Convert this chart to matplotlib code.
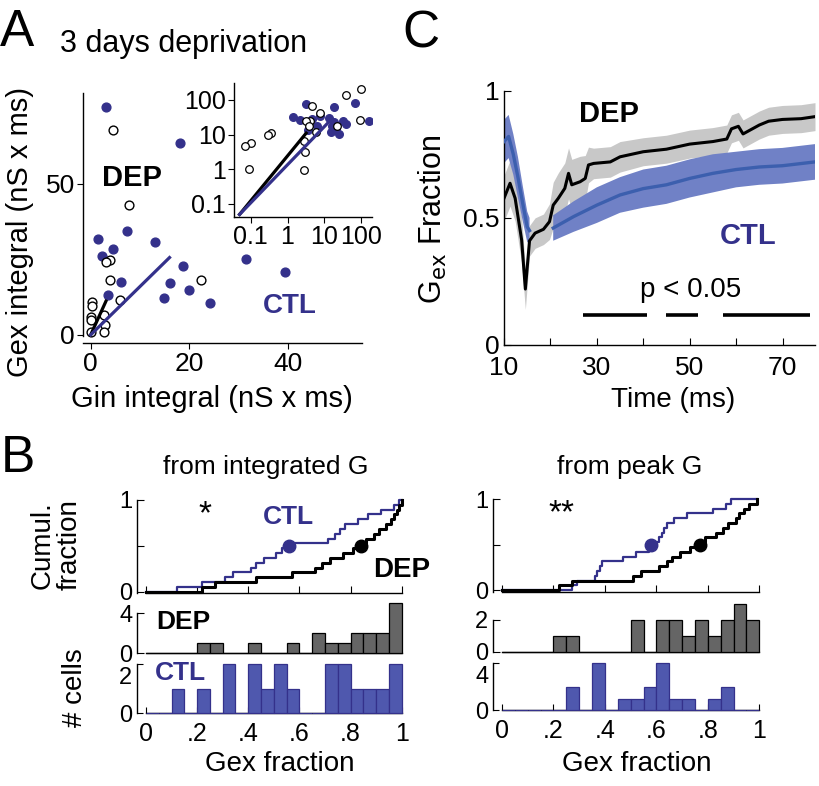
import numpy as np
import matplotlib.pyplot as plt
from matplotlib.transforms import ScaledTranslation

plt.rcParams['font.family'] = ['Liberation Sans', 'DejaVu Sans']
plt.rcParams['axes.linewidth'] = 1.0

W, H = 820, 786

NAVY = '#34318b'
HIST_BLUE = '#4f58ae'
HIST_GRAY = '#656565'
C_BLUE = '#3c5fae'
C_BAND = '#7081c6'
C_GRAY = '#c8c8c8'

# ---- A: integrated conductances, one point per cell (nS x ms)
ctl_gin = [3.2, 18.1, 7.4, 1.4, 13.1, 4.6, 2.2, 31.6, 18.7, 39.4, 6.1, 16.0, 20.0, 3.6, 14.9, 24.3, 68, 158]
ctl_gex = [75.6, 63.6, 34.5, 31.7, 30.8, 28.5, 26.2, 25.1, 22.7, 20.7, 17.4, 17.1, 14.7, 13.3, 12.2, 10.7, 83, 25]
dep_gin = [4.6, 7.8, 4.0, 3.1, 3.9, 22.4, 5.9, 0.35, 0.3, 0.1, 0.07, 2.8, 2.9, 0.09, 2.8, 38, 100, 93]
dep_gex = [68, 43, 24.9, 24, 18, 18, 11.5, 11, 9.6, 5.8, 4.8, 6.6, 3.2, 1.05, 0.93, 138, 204, 26]

# linear fits (main) and fits shown in the log-log inset
dep_slope, ctl_slope = 3.6, 1.6
dep_fit_x = [0.0, 3.1]
ctl_fit_x = [0.0, 16.0]
dep_log_x, dep_log_y = [0.05, 3.2], [0.05, 11]
ctl_log_x, ctl_log_y = [0.05, 12.6], [0.05, 22]

# ---- C: Gex fraction vs time, mean +- sem
dep_t = [10, 11.3, 12.4, 13.8, 14.6, 15.5, 16.7, 18.5, 19.8, 20.6, 21.7, 23.1, 23.9, 24.6, 26.4, 27.5,
         28.2, 29.3, 32.9, 35, 40, 45, 50, 55, 58, 59, 60.5, 61.5, 63, 65, 67, 70, 74, 77]
dep_y = [0.577, 0.636, 0.577, 0.413, 0.22, 0.41, 0.44, 0.455, 0.485, 0.55, 0.577, 0.616, 0.675, 0.63,
         0.642, 0.655, 0.708, 0.714, 0.72, 0.74, 0.76, 0.77, 0.79, 0.80, 0.81, 0.85, 0.86, 0.83, 0.845,
         0.865, 0.88, 0.887, 0.89, 0.898]
dep_sem = [0.09, 0.09, 0.09, 0.09, 0.08, 0.06, 0.06, 0.06, 0.07, 0.09, 0.1, 0.1, 0.1, 0.1, 0.1, 0.09,
           0.07, 0.06, 0.06, 0.06, 0.055, 0.055, 0.055, 0.055, 0.055, 0.055, 0.055, 0.055, 0.055, 0.055,
           0.055, 0.055, 0.055, 0.055]
ctl_t = [10, 11, 12, 13, 14, 15, 15.5, 18, 20.6, 25, 30, 35, 40, 45, 50, 55, 60, 65, 70, 77]
ctl_y = [0.80, 0.82, 0.75, 0.66, 0.56, 0.465, 0.45, np.nan, 0.46, 0.505, 0.55, 0.59, 0.615, 0.63,
         0.655, 0.675, 0.69, 0.70, 0.705, 0.72]
ctl_sem = [0.085, 0.085, 0.08, 0.08, 0.07, 0.06, 0.05, np.nan, 0.05, 0.06, 0.07, 0.07, 0.075, 0.075,
           0.075, 0.075, 0.07, 0.07, 0.07, 0.07]
sig_start = [27.1, 44.9, 57.1]
sig_end = [40.7, 51.7, 75.9]
sig_level = 0.118

# ---- B: Gex fraction per cell
int_ctl = [0.12, 0.22, 0.31, 0.34, 0.41, 0.43, 0.46, 0.51, 0.53, 0.56, 0.71, 0.74, 0.76, 0.78, 0.83,
           0.87, 0.92, 0.97, 0.99]
int_dep = [0.22, 0.27, 0.43, 0.57, 0.66, 0.69, 0.72, 0.77, 0.81, 0.84, 0.86, 0.89, 0.91, 0.94, 0.96,
           0.97, 0.98, 0.99, 1.0]
peak_ctl = [0.27, 0.29, 0.36, 0.37, 0.38, 0.39, 0.47, 0.52, 0.57, 0.58, 0.61, 0.62, 0.63, 0.64, 0.67,
            0.72, 0.82, 0.87, 0.89]
peak_dep = [0.22, 0.27, 0.51, 0.54, 0.61, 0.64, 0.66, 0.69, 0.73, 0.77, 0.79, 0.83, 0.86, 0.88, 0.91,
            0.92, 0.94, 0.96, 0.99]
frac_ticks = [0, 0.2, 0.4, 0.6, 0.8, 1]
frac_labels = ['0', '.2', '.4', '.6', '.8', '1']


def box(x0, y0, x1, y1):
    # pixel box (left, top, right, bottom) -> figure rect
    return [x0 / W, 1 - y1 / H, (x1 - x0) / W, (y1 - y0) / H]


def ftext(fig, x, y, s, **kw):
    kw.setdefault('ha', 'center')
    kw.setdefault('va', 'center')
    fig.text(x / W, 1 - y / H, s, **kw)


def clean(ax):
    ax.spines['top'].set_visible(False)
    ax.spines['right'].set_visible(False)


def panelA(fig):
    ax = fig.add_axes(box(83.3, 93.3, 361.7, 343.3))
    clean(ax)
    ax.scatter(ctl_gin, ctl_gex, s=40, color=NAVY, zorder=3)
    ax.scatter(dep_gin, dep_gex, s=40, facecolors='white', edgecolors='black', linewidths=1.0, zorder=4)
    x = np.array(dep_fit_x)
    ax.plot(x, dep_slope * x, color='black', lw=2.3, zorder=5)
    x = np.array(ctl_fit_x)
    ax.plot(x, ctl_slope * x, color=NAVY, lw=2.3, zorder=5)
    ax.set_xlim(-1.5, 55)
    ax.set_ylim(-2.8, 80)
    ax.spines['left'].set_bounds(-0.3, 80)
    ax.set_xticks([0, 20, 40])
    ax.set_yticks([0, 50])
    ax.tick_params(direction='out', length=4, labelsize=19, pad=2)
    ax.text(8.4, 52, 'DEP', fontsize=21, fontweight='bold', ha='center', va='center')
    ax.text(40.5, 9.4, 'CTL', fontsize=20, fontweight='bold', color=NAVY, ha='center', va='center')

    ins = fig.add_axes(box(234.3, 83.3, 372, 216.7))
    ins.patch.set_alpha(0)
    clean(ins)
    ins.set_xscale('log')
    ins.set_yscale('log')
    ins.scatter(ctl_gin, ctl_gex, s=30, color=NAVY, zorder=3)
    ins.scatter(dep_gin, dep_gex, s=30, facecolors='white', edgecolors='black', linewidths=0.9, zorder=4)
    ins.plot(dep_log_x, dep_log_y, color='black', lw=2.3, zorder=5)
    ins.plot(ctl_log_x, ctl_log_y, color=NAVY, lw=2.3, zorder=5)
    ins.set_xlim(0.036, 195)
    ins.set_ylim(0.043, 300)
    ins.set_xticks([0.1, 1, 10, 100], ['0.1', '1', '10', '100'])
    ins.set_yticks([0.1, 1, 10, 100], ['0.1', '1', '10', '100'])
    ins.minorticks_off()
    ins.tick_params(direction='out', length=4, labelsize=18, pad=2)

    ftext(fig, 17, 32, 'A', fontsize=37)
    ftext(fig, 184, 44, '3 days deprivation', fontsize=22)
    ftext(fig, 212, 399, 'Gin integral (nS x ms)', fontsize=21)
    ftext(fig, 20, 232, 'Gex integral (nS x ms)', fontsize=21, rotation=90)


def panelC(fig):
    ax = fig.add_axes(box(504, 90.7, 815, 345))
    clean(ax)
    t = np.array(dep_t)
    y = np.array(dep_y)
    e = np.array(dep_sem)
    ax.fill_between(t, y - e, y + e, color=C_GRAY, lw=0, zorder=1)
    t2 = np.array(ctl_t)
    y2 = np.array(ctl_y)
    e2 = np.array(ctl_sem)
    ax.fill_between(t2, y2 - e2, y2 + e2, color=C_BAND, lw=0, zorder=2)
    ax.plot(t2, y2, color=C_BLUE, lw=2.4, zorder=3)
    ax.plot(t, y, color='black', lw=2.2, zorder=4)
    ax.hlines([sig_level] * len(sig_start), sig_start, sig_end, color='black', lw=2.6)
    ax.set_xlim(10, 77)
    ax.set_ylim(0, 1)
    ax.set_xticks(np.arange(10, 71, 10), ['10', '', '30', '', '50', '', '70'])
    ax.set_yticks([0, 0.5, 1], ['0', '0.5', '1'])
    ax.tick_params(direction='in', length=5, labelsize=19)
    ax.tick_params(axis='x', pad=8)
    ax.text(32.6, 0.91, 'DEP', fontsize=21, fontweight='bold', ha='center', va='center')
    ax.text(62.7, 0.43, 'CTL', fontsize=21, fontweight='bold', color=NAVY, ha='center', va='center')
    ax.text(50.1, 0.216, 'p < 0.05', fontsize=20, ha='center', va='center')
    ftext(fig, 421, 34, 'C', fontsize=37)
    ftext(fig, 433, 219, r'G$_{\rm ex}$ Fraction', fontsize=22, rotation=90)
    ftext(fig, 673, 400, 'Time (ms)', fontsize=20)


def ecdf(ax, vals, end, color, lw):
    v = np.sort(vals)
    n = len(v)
    xs = np.concatenate([[0], v, [end]])
    ys = np.concatenate([np.arange(n + 1) / n, [1]])
    ax.step(xs, ys, where='post', color=color, lw=lw, clip_on=False)
    ax.plot(np.median(v), 0.5, 'o', color=color, ms=9, clip_on=False, zorder=5)


def hist(ax, vals, face, edge, ymax, ytop):
    counts, edges = np.histogram(vals, bins=np.linspace(0, 1, 21))
    ax.bar(edges[:-1], counts, width=0.05, align='edge', color=face, edgecolor=edge, lw=0.9,
           clip_on=False, zorder=3)
    ax.set_ylim(0, ytop)
    ax.spines['left'].set_bounds(0, ymax)
    ax.spines['bottom'].set_bounds(0, 1)
    ax.set_yticks([0, ymax], ['0', str(ymax)])


def panelB_column(fig, x0, x1, rows, ctl, dep, star, dep_max, dep_top, ctl_max, ctl_top, title, tx):
    cbox, dbox, hbox = rows
    xl = (-0.034, 1.0)

    ax = fig.add_axes(box(x0, cbox[0], x1, cbox[1]))
    clean(ax)
    end = max(max(ctl), max(dep))
    ecdf(ax, ctl, end, NAVY, 1.6)
    ecdf(ax, dep, end, 'black', 2.2)
    ax.set_xlim(*xl)
    ax.set_ylim(-0.017, 1)
    ax.spines['bottom'].set_bounds(0, 1)
    ax.set_xticks(frac_ticks, [''] * 6)
    ax.set_yticks([0, 0.5, 1], ['0', '', '1'])
    ax.tick_params(direction='in', length=5, labelsize=17)
    ax.text(0.23, 0.84, star, fontsize=24, ha='center', va='center')

    ad = fig.add_axes(box(x0, dbox[0], x1, dbox[1]))
    clean(ad)
    hist(ad, dep, HIST_GRAY, 'black', dep_max, dep_top)
    ad.set_xlim(*xl)
    ad.set_xticks([])
    ad.tick_params(direction='in', length=5, labelsize=17)

    ah = fig.add_axes(box(x0, hbox[0], x1, hbox[1]))
    clean(ah)
    hist(ah, ctl, HIST_BLUE, NAVY, ctl_max, ctl_top)
    ah.set_xlim(*xl)
    ah.set_xticks(frac_ticks, frac_labels)
    ah.tick_params(direction='in', length=4, labelsize=17)
    ah.tick_params(axis='x', labelsize=18, pad=6)
    # top label sits just under its tick, as in the original
    top = ah.get_yticklabels()[-1]
    top.set_va('top')
    top.set_transform(top.get_transform() + ScaledTranslation(0, -2 / 72, fig.dpi_scale_trans))

    ftext(fig, tx, 467, title, fontsize=19)
    ftext(fig, (x0 + x1) / 2 + 10, 764, 'Gex fraction', fontsize=20)
    return ax, ad, ah


def panelB(fig):
    ax, ad, ah = panelB_column(fig, 137.3, 401.7, [(500, 593.3), (603, 653.3), (664, 713.3)],
                               int_ctl, int_dep, '*', 4, 5, 2, 2, 'from integrated G', 266)
    ax.text(0.557, 0.82, 'CTL', fontsize=19, fontweight='bold', color=NAVY, ha='center', va='center')
    ax.text(1.0, 0.24, 'DEP', fontsize=20, fontweight='bold', ha='center', va='center')
    ad.text(0.147, 3.1, 'DEP', fontsize=19, fontweight='bold', ha='center', va='center')
    ah.text(0.133, 1.63, 'CTL', fontsize=19, fontweight='bold', color=NAVY, ha='center', va='center')

    panelB_column(fig, 493.3, 759.3, [(499, 591.7), (603.7, 651.7), (663.3, 710.3)],
                  peak_ctl, peak_dep, '**', 2, 3, 4, 4, 'from peak G', 630)

    ftext(fig, 18, 458, 'B', fontsize=37)
    ftext(fig, 56, 545, 'Cumul.\nfraction', fontsize=20, rotation=90, linespacing=1.05)
    ftext(fig, 75, 688, '# cells', fontsize=20, rotation=90)


if __name__ == "__main__":
    fig = plt.figure(figsize=(W / 100, H / 100), dpi=100)
    panelA(fig)
    panelC(fig)
    panelB(fig)
    fig.savefig('out.png', dpi=100)
